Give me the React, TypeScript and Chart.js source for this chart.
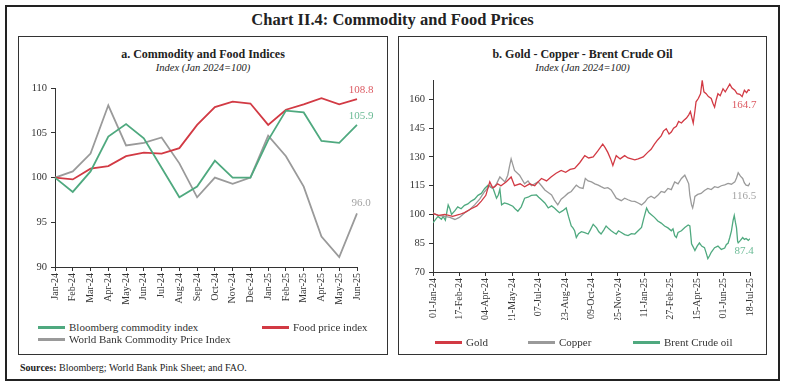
import React, { useEffect, useRef } from "react";
import { Chart, registerables } from "chart.js";

Chart.register(...registerables);

// ---------- Panel a: monthly indices ----------
const monthLabels = [
  "Jan-24", "Feb-24", "Mar-24", "Apr-24", "May-24", "Jun-24", "Jul-24", "Aug-24", "Sep-24",
  "Oct-24", "Nov-24", "Dec-24", "Jan-25", "Feb-25", "Mar-25", "Apr-25", "May-25", "Jun-25",
];
const bloombergIndex = [100, 98.4, 100.7, 104.6, 106.0, 104.4, 101.1, 97.8, 99.0, 101.9, 100.0, 100.0, 104.2, 107.5, 107.3, 104.1, 103.9, 105.9];
const foodPriceIndex = [100, 99.8, 101.0, 101.3, 102.4, 102.8, 102.7, 103.3, 105.9, 107.9, 108.5, 108.3, 105.9, 107.6, 108.2, 108.9, 108.2, 108.8];
const worldBankIndex = [100, 100.7, 102.7, 108.1, 103.6, 103.9, 104.5, 101.6, 97.8, 100.0, 99.3, 100.0, 104.7, 102.4, 99.0, 93.4, 91.1, 96.0];
const leftTicks = [90, 95, 100, 105, 110];

// ---------- Panel b: daily prices (day offset from 01-Jan-2024) ----------
const goldDays = [0, 10, 21, 35, 47, 56, 68, 78, 86, 94, 101, 106, 110, 115, 121, 130, 139, 145, 155, 163, 172, 181, 187, 193, 202, 210, 219, 228, 236, 244, 252, 261, 270, 277, 285, 293, 302, 306, 311, 316, 320, 326, 333, 341, 347, 353, 359, 365, 374, 382, 388, 394, 400, 406, 410, 415, 420, 424, 428, 433, 437, 442, 446, 451, 455, 458, 461, 463, 466, 468, 472, 476, 479, 482, 486, 490, 495, 498, 501, 504, 507, 511, 516, 520, 524, 528, 532, 537, 541, 546, 550, 554, 558, 561, 564];
const goldValues = [100.5, 99.5, 100.0, 99.0, 100.0, 101, 103, 104.5, 107, 110, 117, 114, 114.5, 116, 115, 117, 119.6, 115, 116, 114.5, 116, 115, 117, 118.8, 117.5, 119.6, 121.5, 123, 122, 123.5, 124, 127, 130.7, 129.5, 130, 133, 136.7, 135, 132.4, 129, 125.6, 130.7, 129, 130.7, 129.5, 129, 128.5, 129, 130, 132.4, 134, 136.7, 139, 141, 143.5, 144.7, 142, 143, 145, 146, 148.5, 147.7, 149, 150.3, 152, 153.7, 150, 147.7, 154, 158.8, 160.5, 163, 170, 164, 163, 161.5, 160.5, 158, 156, 160, 163, 162, 165.6, 164, 166, 168, 166, 164.8, 163, 162.7, 161.5, 164.8, 163.5, 165, 164.7];

const copperDays = [0, 9, 21, 30, 39, 47, 56, 65, 74, 83, 92, 101, 107, 113, 119, 128, 133, 136, 139, 142, 145, 154, 163, 169, 175, 187, 193, 199, 205, 211, 216, 222, 228, 234, 240, 246, 255, 261, 267, 271, 276, 282, 288, 294, 299, 305, 311, 317, 322, 326, 335, 341, 347, 353, 359, 365, 371, 377, 382, 388, 394, 400, 406, 412, 418, 424, 430, 436, 442, 448, 452, 455, 457, 460, 462, 464, 466, 471, 477, 483, 489, 495, 501, 507, 513, 519, 525, 531, 537, 540, 543, 547, 551, 554, 557, 561, 564];
const copperValues = [100.8, 99.5, 99, 98.5, 97.4, 98.5, 100.8, 102.5, 105, 108, 112, 115, 113.6, 116, 119.6, 117, 120.5, 125, 129, 126, 123, 120.5, 116, 117.5, 115, 117, 115, 112.8, 111.5, 110.2, 107.5, 105, 108, 109.4, 111, 112, 115.3, 114, 113.6, 118.8, 117.5, 117, 116, 115.3, 114.5, 113.6, 114, 112.8, 110.5, 108.5, 107.2, 108.5, 107.7, 107, 106.8, 106, 105, 106.5, 108.5, 109.5, 108.5, 110, 112, 111.5, 113.6, 113, 117, 116, 118.8, 120.5, 118, 116, 110, 105, 103.4, 106, 109.4, 110.5, 111, 112.5, 113.6, 113, 114.5, 114, 115, 115.5, 116.2, 115.8, 117, 119, 121.8, 120, 118.8, 116.5, 115.3, 115, 116.5];

const brentDays = [0, 6, 9, 15, 18, 22, 27, 30, 33, 39, 44, 50, 56, 62, 68, 74, 80, 86, 92, 98, 104, 107, 113, 116, 119, 122, 127, 133, 142, 146, 151, 157, 163, 169, 175, 184, 188, 193, 199, 205, 211, 216, 221, 225, 231, 237, 241, 246, 249, 252, 255, 259, 264, 270, 276, 280, 285, 291, 295, 299, 304, 308, 313, 317, 322, 326, 330, 335, 341, 347, 353, 359, 365, 371, 375, 380, 384, 388, 394, 400, 406, 412, 418, 424, 427, 430, 433, 436, 442, 448, 454, 457, 459, 460, 463, 466, 470, 474, 478, 483, 486, 489, 492, 495, 501, 507, 513, 519, 522, 525, 528, 531, 534, 536, 538, 540, 542, 543, 547, 551, 554, 557, 561, 564];
const brentValues = [95.7, 98, 99, 97.5, 99, 97, 105, 103, 100, 102, 104, 103, 104.8, 105.5, 107, 108, 110, 111, 113.6, 115.3, 114, 113.6, 108.5, 110, 113.3, 105, 106, 105.5, 104.3, 103, 101.7, 104, 108.5, 109, 110, 110.2, 109, 107.7, 106, 103.4, 104.5, 103.4, 102, 100.9, 102, 103.4, 99, 94, 93, 91.5, 88, 90, 91, 90.5, 89.8, 92, 94.9, 93, 91, 89.8, 92, 94, 92.5, 91.5, 90.5, 89.8, 91.5, 90.6, 89.5, 89, 90, 89.8, 91.5, 93.2, 98, 103.4, 101, 100, 98.5, 96.6, 95.5, 94, 93, 91.5, 92.5, 89, 88, 90.6, 91.5, 93.2, 94.5, 94, 88, 84.7, 83, 81.2, 83.5, 85.2, 83.5, 82.7, 80, 77, 78.5, 80.3, 82.7, 83.5, 81.8, 82.5, 84.4, 85, 88, 91.5, 97, 99.5, 96, 93, 86, 85.2, 86.5, 88, 87, 87.5, 86.5, 87.4];
const rightTicks = [70, 85, 100, 115, 130, 145, 160];
const dateTickDays = [0, 47, 94, 141, 188, 235, 282, 329, 376, 423, 470, 517, 564];

const RED = "#d23a44";
const GREEN = "#4fa97f";
const GRAY = "#9a9a9a";
const RED_L = "#dc5a62";
const GREEN_L = "#6cbb96";
const GRAY_L = "#a4a4a4";
const FONT = "'Liberation Serif', 'Times New Roman', serif";
const MONTHS = ["Jan", "Feb", "Mar", "Apr", "May", "Jun", "Jul", "Aug", "Sep", "Oct", "Nov", "Dec"];

const endLabelPlugin = {
  id: "endLabels",
  afterDatasetsDraw(chart: any) {
    const ctx = chart.ctx;
    chart.data.datasets.forEach((ds: any, i: number) => {
      const meta = chart.getDatasetMeta(i);
      const pts = meta.data;
      if (!pts.length || !ds.endLabel) return;
      const p = pts[pts.length - 1];
      const raw = ds.data[ds.data.length - 1];
      const v = typeof raw === "number" ? raw : raw.y;
      ctx.save();
      ctx.font = `11px ${FONT}`;
      ctx.fillStyle = ds.endLabel.color;
      ctx.textAlign = "center";
      ctx.textBaseline = "middle";
      ctx.fillText(v.toFixed(1), p.x + ds.endLabel.dx, p.y + ds.endLabel.dy);
      ctx.restore();
    });
  },
};

const axisGrid = { display: true, drawOnChartArea: false, drawTicks: true, tickLength: 4, color: "#333", lineWidth: 1 };
const axisBorder = { display: true, color: "#333", width: 1 };

function fmtDay(d: number) {
  const dt = new Date(2024, 0, 1 + d);
  const dd = String(dt.getDate()).padStart(2, "0");
  return `${dd}-${MONTHS[dt.getMonth()]}-${String(dt.getFullYear()).slice(2)}`;
}

function LeftChart() {
  const ref = useRef<HTMLCanvasElement>(null);
  useEffect(() => {
    const chart = new Chart(ref.current as HTMLCanvasElement, {
      type: "line",
      data: {
        labels: monthLabels,
        datasets: [
          { label: "Bloomberg commodity index", data: bloombergIndex, borderColor: GREEN, borderWidth: 1.8, pointRadius: 0, tension: 0, endLabel: { color: GREEN_L, dx: 4, dy: -9 } } as any,
          { label: "Food price index", data: foodPriceIndex, borderColor: RED, borderWidth: 1.8, pointRadius: 0, tension: 0, endLabel: { color: RED_L, dx: 4, dy: -9 } } as any,
          { label: "World Bank Commodity Price Index", data: worldBankIndex, borderColor: GRAY, borderWidth: 1.8, pointRadius: 0, tension: 0, endLabel: { color: GRAY_L, dx: 4, dy: -10 } } as any,
        ],
      },
      options: {
        animation: false,
        responsive: false,
        maintainAspectRatio: false,
        layout: { padding: { left: 0, right: 31, top: 8, bottom: 0 } },
        plugins: { legend: { display: false }, tooltip: { enabled: false } },
        scales: {
          x: {
            type: "category",
            offset: false,
            grid: axisGrid as any,
            border: axisBorder as any,
            ticks: { color: "#333", font: { family: FONT, size: 10 }, minRotation: 90, maxRotation: 90, autoSkip: false, padding: 2 },
            afterFit: (s: any) => { s.height = 46; },
          },
          y: {
            min: 90,
            max: 110,
            grid: axisGrid as any,
            border: axisBorder as any,
            afterBuildTicks: (s: any) => { s.ticks = leftTicks.map((v) => ({ value: v })); },
            ticks: { color: "#333", font: { family: FONT, size: 10.5 }, padding: 4 },
            afterFit: (s: any) => { s.width = 37; },
          },
        },
      },
      plugins: [endLabelPlugin],
    });
    return () => chart.destroy();
  }, []);
  return <canvas ref={ref} width={370} height={235} style={{ position: "absolute", left: 18, top: 78, width: 370, height: 235 }} />;
}

function RightChart() {
  const ref = useRef<HTMLCanvasElement>(null);
  useEffect(() => {
    const mk = (days: number[], vals: number[]) => days.map((d, i) => ({ x: d, y: vals[i] }));
    const chart = new Chart(ref.current as HTMLCanvasElement, {
      type: "line",
      data: {
        datasets: [
          { label: "Gold", data: mk(goldDays, goldValues), borderColor: RED, borderWidth: 1.3, pointRadius: 0, tension: 0, endLabel: { color: RED_L, dx: -6, dy: 15 } } as any,
          { label: "Copper", data: mk(copperDays, copperValues), borderColor: GRAY, borderWidth: 1.3, pointRadius: 0, tension: 0, endLabel: { color: GRAY_L, dx: -6, dy: 13 } } as any,
          { label: "Brent Crude oil", data: mk(brentDays, brentValues), borderColor: GREEN, borderWidth: 1.3, pointRadius: 0, tension: 0, endLabel: { color: GREEN_L, dx: -6, dy: 12 } } as any,
        ],
      },
      options: {
        animation: false,
        responsive: false,
        maintainAspectRatio: false,
        layout: { padding: { left: 0, right: 17, top: 7, bottom: 0 } },
        plugins: { legend: { display: false }, tooltip: { enabled: false } },
        scales: {
          x: {
            type: "linear",
            min: 0,
            max: 564,
            grid: axisGrid as any,
            border: axisBorder as any,
            afterBuildTicks: (s: any) => { s.ticks = dateTickDays.map((v) => ({ value: v })); },
            ticks: { color: "#333", font: { family: FONT, size: 10 }, minRotation: 90, maxRotation: 90, autoSkip: false, padding: 2, callback: (v: any) => fmtDay(Number(v)) },
            afterFit: (s: any) => { s.height = 48; },
          },
          y: {
            min: 70,
            max: 170,
            grid: axisGrid as any,
            border: axisBorder as any,
            afterBuildTicks: (s: any) => { s.ticks = rightTicks.map((v) => ({ value: v })); },
            ticks: { color: "#333", font: { family: FONT, size: 10.5 }, padding: 4 },
            afterFit: (s: any) => { s.width = 35; },
          },
        },
      },
      plugins: [endLabelPlugin],
    });
    return () => chart.destroy();
  }, []);
  return <canvas ref={ref} width={369} height={250} style={{ position: "absolute", left: 398, top: 70, width: 369, height: 250 }} />;
}

function LegendItem({ x, y, color, text }: { x: number; y: number; color: string; text: string }) {
  return (
    <div style={{ position: "absolute", left: x, top: y - 8, height: 16, display: "flex", alignItems: "center", whiteSpace: "nowrap" }}>
      <div style={{ width: 27, height: 3, background: color, marginRight: 4 }} />
      <span style={{ fontSize: 11, color: "#333", fontFamily: FONT }}>{text}</span>
    </div>
  );
}

export default function App() {
  const txt: React.CSSProperties = { position: "absolute", fontFamily: FONT, color: "#222", whiteSpace: "nowrap" };
  return (
    <div style={{ position: "fixed", left: 0, top: 0, width: 785, height: 384, background: "#fff", overflow: "hidden" }}>
      <div style={{ position: "absolute", left: 5, top: 5, width: 771, height: 372, border: "2px solid #222" }} />
      <div style={{ ...txt, left: 0, width: 785, top: 10, textAlign: "center", fontSize: 16.5, fontWeight: "bold", lineHeight: "20px" }}>
        Chart II.4: Commodity and Food Prices
      </div>
      <div style={{ position: "absolute", left: 18, top: 36, width: 368, height: 317, border: "1.5px solid #333" }} />
      <div style={{ position: "absolute", left: 398, top: 36, width: 367, height: 317, border: "1.5px solid #333" }} />

      <div style={{ ...txt, left: 18, width: 370, top: 47, textAlign: "center", fontSize: 12, fontWeight: "bold", lineHeight: "14px" }}>
        a. Commodity and Food Indices
      </div>
      <div style={{ ...txt, left: 18, width: 370, top: 61, textAlign: "center", fontSize: 10.5, fontStyle: "italic", lineHeight: "13px" }}>
        Index (Jan 2024=100)
      </div>
      <div style={{ ...txt, left: 398, width: 369, top: 47, textAlign: "center", fontSize: 12, fontWeight: "bold", lineHeight: "14px" }}>
        b. Gold - Copper - Brent Crude Oil
      </div>
      <div style={{ ...txt, left: 398, width: 369, top: 61, textAlign: "center", fontSize: 10.5, fontStyle: "italic", lineHeight: "13px" }}>
        Index (Jan 2024=100)
      </div>

      <LeftChart />
      <RightChart />

      <LegendItem x={38} y={327} color={GREEN} text="Bloomberg commodity index" />
      <LegendItem x={262} y={327} color={RED} text="Food price index" />
      <LegendItem x={38} y={339} color={GRAY} text="World Bank Commodity Price Index" />

      <LegendItem x={435} y={342} color={RED} text="Gold" />
      <LegendItem x={528} y={342} color={GRAY} text="Copper" />
      <LegendItem x={633} y={342} color={GREEN} text="Brent Crude oil" />

      <div style={{ ...txt, left: 20, top: 361, fontSize: 10, lineHeight: "13px" }}>
        <b>Sources:</b> Bloomberg; World Bank Pink Sheet; and FAO.
      </div>
    </div>
  );
}
